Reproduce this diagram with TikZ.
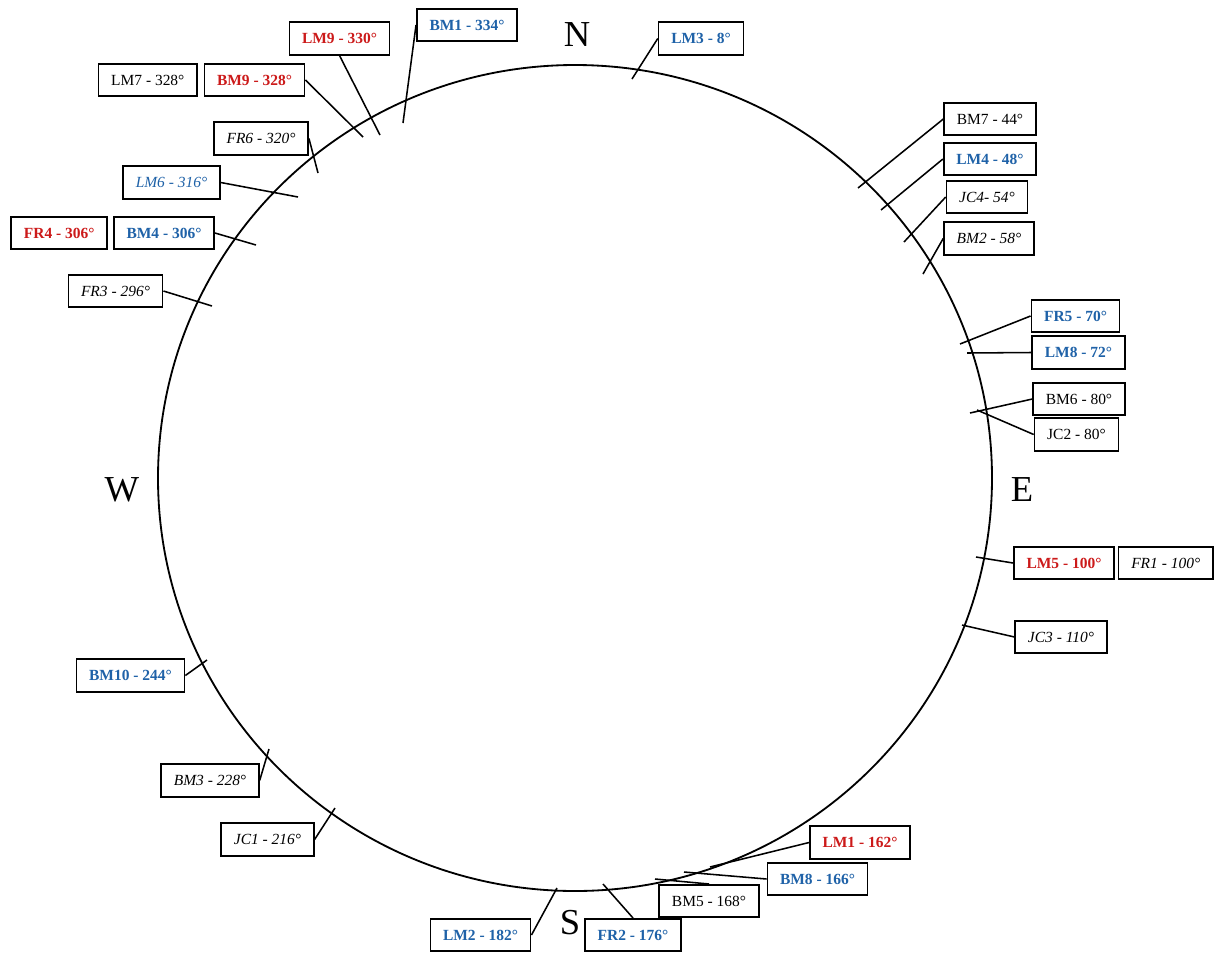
\documentclass[tikz,border=0pt]{standalone}
\usepackage{fontspec}
\setmainfont{Liberation Serif}
\usepackage{xcolor}
\definecolor{red600}{HTML}{CC1A1A}
\definecolor{blue700}{HTML}{1F62A8}
\usetikzlibrary{positioning}

\begin{document}
\begin{tikzpicture}[
        x=0.025cm, y=-0.025cm,
        tag/.style={draw, rectangle, line width=1.2pt, minimum height=23pt, inner xsep=9pt, fill=white, font=\fontsize{11}{13}\selectfont},
        redtag/.style={tag, text=red600, font=\fontsize{11}{13}\selectfont\bfseries},
        bluetag/.style={tag, text=blue700, font=\fontsize{11}{13}\selectfont\bfseries},
        itag/.style={tag, font=\fontsize{11}{13}\selectfont\itshape},
        blueitag/.style={itag, text=blue700},
        tick/.style={line width=1.1pt},
        ring/.style={line width=1.3pt},
        compass/.style={font=\fontsize{26}{30}\selectfont}
    ]
        \useasboundingbox (0,0) rectangle (1219,956);

        % Compass circle
        \draw[ring] (575,478) ellipse [x radius=417, y radius=413];
        \node[compass] (cN) at (577,35) {N};
        \node[compass] (cE) at (1022,490) {E};
        \node[compass] (cS) at (570,923) {S};
        \node[compass] (cW) at (122,490) {W};

        % Tick ends
        \coordinate (t-lm3) at (632,79);
        \coordinate (t-bm1) at (403,123);
        \coordinate (t-lm9) at (380,135);
        \coordinate (t-bm9) at (363,137);
        \coordinate (t-fr6) at (318,173);
        \coordinate (t-lm6) at (298,197);
        \coordinate (t-bm4) at (256,245);
        \coordinate (t-fr3) at (212,306);
        \coordinate (t-bm7) at (858,188);
        \coordinate (t-lm4) at (881,210);
        \coordinate (t-jc4) at (904,242);
        \coordinate (t-bm2) at (923,274);
        \coordinate (t-fr5) at (960,344);
        \coordinate (t-lm8) at (967,353);
        \coordinate (t-bm6) at (970,413);
        \coordinate (t-jc2) at (977,410);
        \coordinate (t-lm5) at (976,557);
        \coordinate (t-jc3) at (962,625);
        \coordinate (t-bm10) at (207,660);
        \coordinate (t-bm3) at (269,749);
        \coordinate (t-jc1) at (335,808);
        \coordinate (t-lm1) at (710,867);
        \coordinate (t-bm8) at (684,872);
        \coordinate (t-bm5) at (655,879);
        \coordinate (t-fr2) at (603,884);
        \coordinate (t-lm2) at (557,888);

        % North-west labels
        \node[bluetag] (lm3) at (701,38.5) {LM3 - 8°};
        \node[bluetag] (bm1) at (467,25) {BM1 - 334°};
        \node[redtag] (lm9) at (339.5,38.5) {LM9 - 330°};
        \node[redtag] (bm9) at (254.5,80) {BM9 - 328°};
        \node[tag, left=4pt of bm9] (lm7) {LM7 - 328°};
        \node[itag] (fr6) at (261,138.5) {FR6 - 320°};
        \node[blueitag] (lm6) at (171.5,182.5) {LM6 - 316°};
        \node[bluetag] (bm4) at (164,233) {BM4 - 306°};
        \node[redtag, left=3.5pt of bm4] (fr4) {FR4 - 306°};
        \node[itag] (fr3) at (115.5,291) {FR3 - 296°};

        % East labels
        \node[tag] (bm7) at (990,119) {BM7 - 44°};
        \node[bluetag] (lm4) at (990,159) {LM4 - 48°};
        \node[itag] (jc4) at (987,197) {JC4- 54°};
        \node[itag] (bm2) at (989,238.5) {BM2 - 58°};
        \node[bluetag] (fr5) at (1075.5,316) {FR5 - 70°};
        \node[bluetag] (lm8) at (1078.5,352.5) {LM8 - 72°};
        \node[tag] (bm6) at (1079,399) {BM6 - 80°};
        \node[tag] (jc2) at (1076.5,434.5) {JC2 - 80°};
        \node[redtag] (lm5) at (1064,563) {LM5 - 100°};
        \node[itag, right=2pt of lm5] (fr1) {FR1 - 100°};
        \node[itag] (jc3) at (1061,637) {JC3 - 110°};

        % South-west labels
        \node[bluetag] (bm10) at (130.5,675.5) {BM10 - 244°};
        \node[itag] (bm3) at (210,780.5) {BM3 - 228°};
        \node[itag] (jc1) at (267.5,839.5) {JC1 - 216°};

        % South labels
        \node[redtag] (lm1) at (860,842.5) {LM1 - 162°};
        \node[bluetag] (bm8) at (817.5,879) {BM8 - 166°};
        \node[tag] (bm5) at (709,901) {BM5 - 168°};
        \node[bluetag] (fr2) at (633,935) {FR2 - 176°};
        \node[bluetag] (lm2) at (480.5,935) {LM2 - 182°};

        % Connectors
        \draw[tick] (lm3.west) -- (t-lm3);
        \draw[tick] (bm1.west) -- (t-bm1);
        \draw[tick] (lm9.south) -- (t-lm9);
        \draw[tick] (bm9.east) -- (t-bm9);
        \draw[tick] (fr6.east) -- (t-fr6);
        \draw[tick] (lm6.east) -- (t-lm6);
        \draw[tick] (bm4.east) -- (t-bm4);
        \draw[tick] (fr3.east) -- (t-fr3);
        \draw[tick] (bm7.west) -- (t-bm7);
        \draw[tick] (lm4.west) -- (t-lm4);
        \draw[tick] (jc4.west) -- (t-jc4);
        \draw[tick] (bm2.west) -- (t-bm2);
        \draw[tick] (fr5.west) -- (t-fr5);
        \draw[tick] (lm8.west) -- (t-lm8);
        \draw[tick] (bm6.west) -- (t-bm6);
        \draw[tick] (jc2.west) -- (t-jc2);
        \draw[tick] (lm5.west) -- (t-lm5);
        \draw[tick] (jc3.west) -- (t-jc3);
        \draw[tick] (bm10.east) -- (t-bm10);
        \draw[tick] (bm3.east) -- (t-bm3);
        \draw[tick] (jc1.east) -- (t-jc1);
        \draw[tick] (lm1.west) -- (t-lm1);
        \draw[tick] (bm8.west) -- (t-bm8);
        \draw[tick] (bm5.north) -- (t-bm5);
        \draw[tick] (fr2.north) -- (t-fr2);
        \draw[tick] (lm2.east) -- (t-lm2);

    \end{tikzpicture}
\end{document}
